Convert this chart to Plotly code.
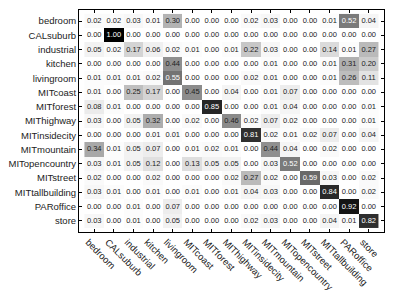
import plotly.graph_objects as go

labels = ["bedroom", "CALsuburb", "industrial", "kitchen", "livingroom", "MITcoast",
          "MITforest", "MIThighway", "MITinsidecity", "MITmountain", "MITopencountry",
          "MITstreet", "MITtallbuilding", "PARoffice", "store"]

row_bedroom = [0.02, 0.02, 0.03, 0.01, 0.30, 0.00, 0.00, 0.00, 0.02, 0.03, 0.00, 0.00, 0.01, 0.52, 0.04]
row_calsuburb = [0.00, 1.00, 0.00, 0.00, 0.00, 0.00, 0.00, 0.00, 0.00, 0.00, 0.00, 0.00, 0.00, 0.00, 0.00]
row_industrial = [0.05, 0.02, 0.17, 0.06, 0.02, 0.01, 0.00, 0.01, 0.22, 0.03, 0.00, 0.00, 0.14, 0.01, 0.27]
row_kitchen = [0.00, 0.00, 0.00, 0.00, 0.44, 0.00, 0.00, 0.00, 0.00, 0.01, 0.00, 0.00, 0.01, 0.31, 0.20]
row_livingroom = [0.01, 0.01, 0.01, 0.02, 0.55, 0.00, 0.00, 0.00, 0.02, 0.01, 0.00, 0.00, 0.01, 0.26, 0.11]
row_mitcoast = [0.01, 0.00, 0.25, 0.17, 0.00, 0.45, 0.00, 0.04, 0.00, 0.01, 0.07, 0.00, 0.00, 0.00, 0.00]
row_mitforest = [0.08, 0.01, 0.00, 0.00, 0.00, 0.00, 0.85, 0.00, 0.00, 0.01, 0.04, 0.00, 0.00, 0.00, 0.01]
row_mithighway = [0.03, 0.00, 0.05, 0.32, 0.00, 0.02, 0.00, 0.46, 0.02, 0.07, 0.02, 0.00, 0.00, 0.00, 0.01]
row_mitinsidecity = [0.00, 0.00, 0.00, 0.01, 0.01, 0.00, 0.00, 0.00, 0.81, 0.02, 0.01, 0.02, 0.07, 0.00, 0.04]
row_mitmountain = [0.34, 0.01, 0.05, 0.07, 0.00, 0.01, 0.02, 0.01, 0.00, 0.44, 0.04, 0.00, 0.02, 0.00, 0.00]
row_mitopencountry = [0.03, 0.01, 0.05, 0.12, 0.00, 0.13, 0.05, 0.05, 0.00, 0.03, 0.52, 0.00, 0.00, 0.00, 0.00]
row_mitstreet = [0.02, 0.00, 0.00, 0.02, 0.00, 0.00, 0.00, 0.02, 0.27, 0.02, 0.00, 0.59, 0.03, 0.00, 0.02]
row_mittallbuilding = [0.03, 0.01, 0.00, 0.01, 0.00, 0.01, 0.00, 0.01, 0.04, 0.03, 0.00, 0.00, 0.84, 0.00, 0.02]
row_paroffice = [0.00, 0.00, 0.01, 0.00, 0.07, 0.00, 0.00, 0.00, 0.00, 0.00, 0.00, 0.00, 0.00, 0.92, 0.00]
row_store = [0.03, 0.00, 0.01, 0.00, 0.05, 0.00, 0.00, 0.00, 0.02, 0.03, 0.00, 0.00, 0.04, 0.01, 0.82]

z = [row_bedroom, row_calsuburb, row_industrial, row_kitchen, row_livingroom, row_mitcoast,
     row_mitforest, row_mithighway, row_mitinsidecity, row_mitmountain, row_mitopencountry,
     row_mitstreet, row_mittallbuilding, row_paroffice, row_store]

FONT = "Liberation Sans, Arial, sans-serif"

fig = go.Figure()
fig.add_trace(go.Heatmap(
    z=z, x=labels, y=labels,
    colorscale=[[0, "#ffffff"], [1, "#000000"]],
    zmin=0, zmax=1, showscale=False, xgap=0, ygap=0,
))

tx, ty, tt, tc = [], [], [], []
for i, rl in enumerate(labels):
    for j, cl in enumerate(labels):
        v = z[i][j]
        tx.append(cl)
        ty.append(rl)
        tt.append(f"{v:.2f}")
        tc.append("#ffffff" if v >= 0.5 else "#222222")

fig.add_trace(go.Scatter(
    x=tx, y=ty, text=tt, mode="text",
    textfont=dict(family=FONT, size=7.5, color=tc),
    hoverinfo="skip", showlegend=False,
))

axis_common = dict(
    showline=True, linecolor="#000000", linewidth=1, mirror="ticks",
    ticks="inside", ticklen=3, tickcolor="#000000", showgrid=False, zeroline=False,
    tickfont=dict(family=FONT, size=9.5, color="#222222"),
)

fig.update_xaxes(tickangle=45, ticklabelshift=-6, **axis_common)
fig.update_yaxes(autorange="reversed", **axis_common)

fig.update_layout(
    width=407, height=301,
    margin=dict(l=70, r=23, t=9, b=58),
    paper_bgcolor="#ffffff", plot_bgcolor="#ffffff",
    showlegend=False,
)

fig.write_html("out.html", config={"displayModeBar": False},
               post_script="document.body.style.margin='0';document.body.style.padding='0';")
